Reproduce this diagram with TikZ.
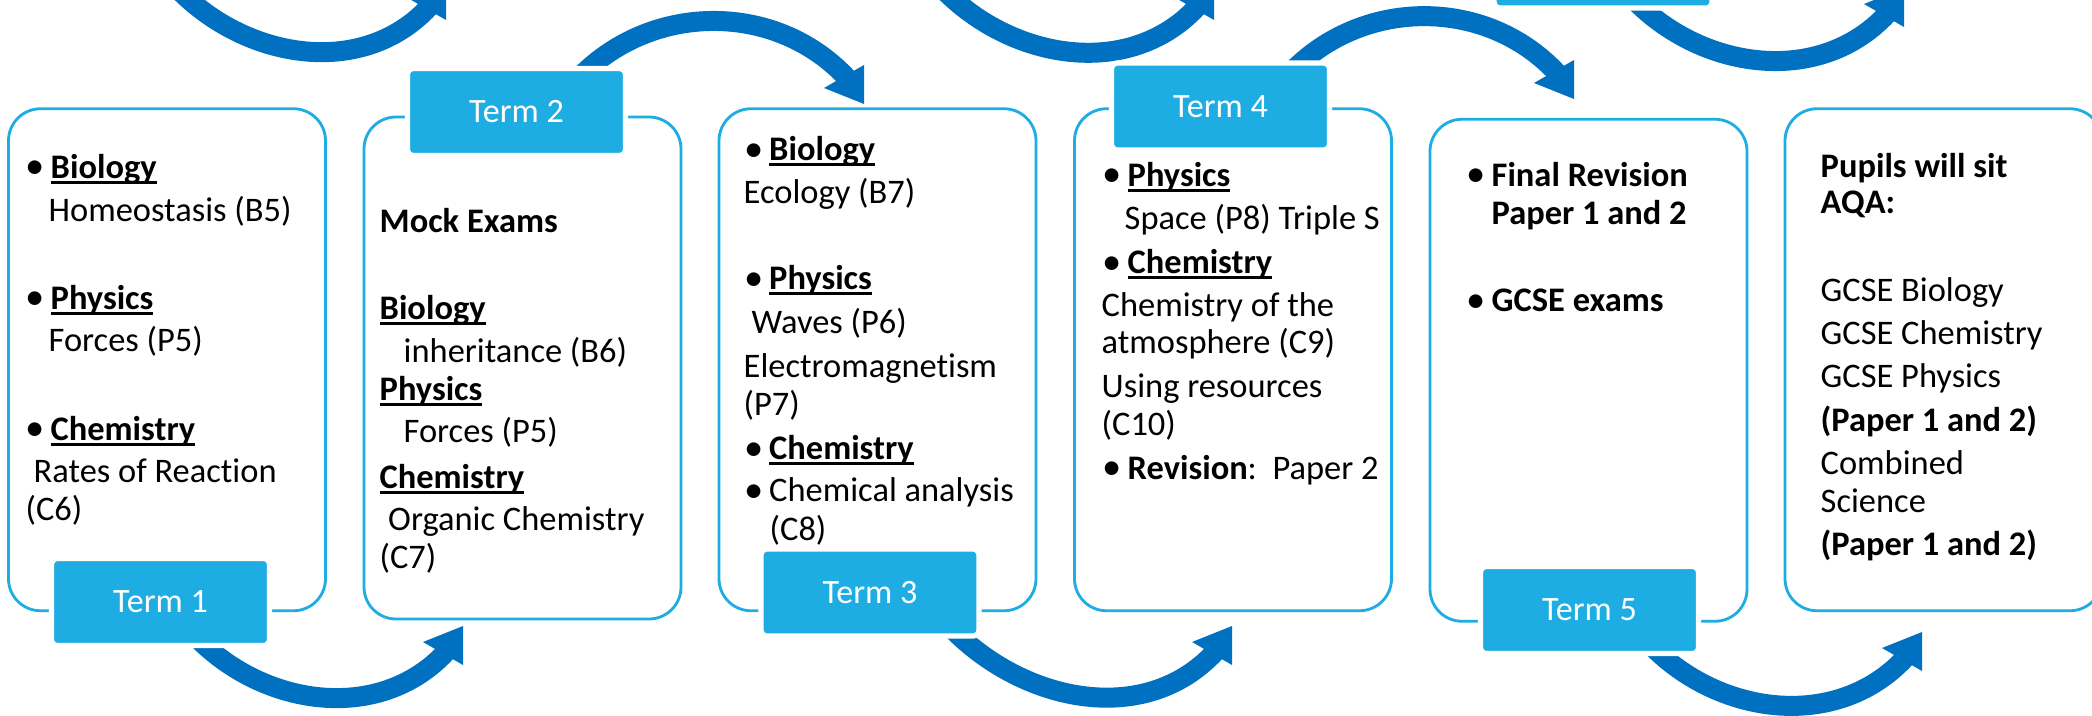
\documentclass[tikz,border=0pt]{standalone}
\usepackage{fontspec}
\setmainfont{Carlito}[Ligatures={NoCommon}]
\usetikzlibrary{backgrounds}
\definecolor{arrowblue}{RGB}{0,112,192}
\definecolor{termblue}{RGB}{30,173,226}
\newcommand\bul{\makebox[0.23cm][l]{\hspace{-0.02cm}\raisebox{-0.05ex}{\scalebox{1.12}{\textbullet}}}}
\newcommand\ulbox[1]{\setbox0=\hbox{#1}\rlap{\rule[-1.6pt]{\wd0}{0.75pt}}\box0}
\newcommand\subj[1]{\textbf{\ulbox{#1}}}
\newcommand\headup[1]{\fill[arrowblue] (#1) ++(0.17,-0.13) -- ++(0,0.39) -- ++(-0.40,-0.16) -- cycle;}
\newcommand\headdown[1]{\fill[arrowblue] (#1) ++(0.17,-0.26) -- ++(0,0.39) -- ++(-0.40,-0.23) -- cycle;}

\begin{document}
\begin{tikzpicture}[
    box/.style={draw=termblue, line width=0.8pt, rounded corners=0.32cm, minimum width=3.17cm, minimum height=5.02cm},
    tab/.style={fill=termblue, draw=white, line width=1.5pt, rounded corners=0.06cm, minimum width=2.18cm, minimum height=0.87cm, text=white, font=\fontsize{9.7}{11}\selectfont},
    txt/.style={anchor=base west, inner sep=0pt, font=\fontsize{9.8}{11}\selectfont},
    band/.style={draw=arrowblue, line width=0.2cm}
]
    \useasboundingbox (0,0) rectangle (20.92,7.15);

    % Boxes
    \node[box] (box1) at (1.67,3.5525) {};
    \node[box] (box2) at (5.225,3.47) {};
    \node[box] (box3) at (8.775,3.5525) {};
    \node[box] (box4) at (12.33,3.5525) {};
    \node[box] (box5) at (15.885,3.4475) {};
    \node[box] (box6) at (19.435,3.5525) {};

    % Term tabs
    \node[tab] (t1) at (1.605,1.13) {Term 1};
    \node[tab] (t2) at (5.165,6.03) {Term 2};
    \node[tab] (t3) at (8.70,1.225) {Term 3};
    \node[tab] (t4) at (12.205,6.085) {Term 4};
    \node[tab] (t5) at (15.895,1.05) {Term 5};
    \node[tab] (t6) at (16.03,7.505) {};

    % Term 1
    \foreach \x/\y/\t [count=\i] in {0.27/5.37/{\bul\subj{Biology}}, 0.48/4.94/{Homeostasis (B5)},
        0.27/4.06/{\bul\subj{Physics}}, 0.48/3.64/{Forces (P5)},
        0.27/2.75/{\bul\subj{Chemistry}}, 0.33/2.33/{Rates of Reaction}, 0.25/1.95/{(C6)}}
        \node[txt] (a\i) at (\x,\y) {\t};

    % Term 2
    \foreach \x/\y/\t [count=\i] in {3.79/4.825/{\textbf{Mock Exams}},
        3.79/3.96/{\subj{Biology}}, 4.03/3.525/{inheritance (B6)},
        3.79/3.15/{\subj{Physics}}, 4.03/2.73/{Forces (P5)},
        3.79/2.27/{\subj{Chemistry}}, 3.875/1.85/{Organic Chemistry}, 3.79/1.47/{(C7)}}
        \node[txt] (b\i) at (\x,\y) {\t};

    % Term 3
    \foreach \x/\y/\t [count=\i] in {7.455/5.545/{\bul\subj{Biology}}, 7.43/5.12/{Ecology (B7)},
        7.455/4.255/{\bul\subj{Physics}}, 7.51/3.82/{Waves (P6)},
        7.43/3.375/{Electromagnetism}, 7.43/3.00/{(P7)},
        7.455/2.555/{\bul\subj{Chemistry}}, 7.455/2.135/{\bul Chemical analysis}, 7.69/1.75/{(C8)}}
        \node[txt] (c\i) at (\x,\y) {\t};

    % Term 4
    \foreach \x/\y/\t [count=\i] in {11.04/5.29/{\bul\subj{Physics}}, 11.24/4.86/{Space (P8) Triple S},
        11.04/4.415/{\bul\subj{Chemistry}}, 11.01/3.99/{Chemistry of the},
        11.01/3.615/{atmosphere (C9)}, 11.01/3.18/{Using resources}, 11.01/2.80/{(C10)},
        11.04/2.36/{\bul\textbf{Revision}:~~Paper 2}}
        \node[txt] (d\i) at (\x,\y) {\t};

    % Term 5
    \foreach \x/\y/\t [count=\i] in {14.68/5.29/{\bul\textbf{Final Revision}}, 14.91/4.91/{\textbf{Paper 1 and 2}},
        14.68/4.035/{\bul\textbf{GCSE exams}}}
        \node[txt] (e\i) at (\x,\y) {\t};

    % Exams
    \foreach \x/\y/\t [count=\i] in {18.20/5.38/{\textbf{Pupils will sit}}, 18.20/5.015/{\textbf{AQA:}},
        18.20/4.14/{GCSE Biology}, 18.20/3.705/{GCSE Chemistry}, 18.20/3.275/{GCSE Physics},
        18.20/2.84/{\textbf{(Paper 1 and 2)}}, 18.20/2.41/{Combined}, 18.20/2.03/{Science},
        18.20/1.60/{\textbf{(Paper 1 and 2)}}}
        \node[txt] (f\i) at (\x,\y) {\t};

    % Curved arrows, behind the tabs
    \begin{scope}[on background layer]
        \fill[white] (0,0) rectangle (20.92,7.15);
        \coordinate (topA) at (1.75,7.29);
        \coordinate (topB) at (9.40,7.29);
        \coordinate (endA) at (4.29,7.08);
        \coordinate (endB) at (11.97,7.08);
        \coordinate (endC) at (18.87,7.01);
        \coordinate (end12) at (4.46,0.63);
        \coordinate (end23) at (8.47,6.37);
        \coordinate (end34) at (12.15,0.63);
        \coordinate (end45) at (15.57,6.42);
        \coordinate (end56) at (19.05,0.57);

        % along the top edge
        \draw[band] (topA) to[out=-47,in=-133] (endA);
        \headup{endA}
        \draw[band] (topB) to[out=-47,in=-133] (endB);
        \headup{endB}
        \draw[band] ([shift={(0.28,0.14)}]t6.south) to[out=-47,in=-133] (endC);
        \headup{endC}

        % from tab to tab
        \draw[band] ([shift={(0.33,0.14)}]t1.south) to[out=-47,in=-133] (end12);
        \headup{end12}
        \draw[band] ([shift={(0.605,-0.14)}]t2.north) to[out=47,in=133] (end23);
        \headdown{end23}
        \draw[band] ([shift={(0.78,0.14)}]t3.south) to[out=-47,in=-133] (end34);
        \headup{end34}
        \draw[band] ([shift={(0.685,-0.14)}]t4.north) to[out=47,in=133] (end45);
        \headdown{end45}
        \draw[band] ([shift={(0.585,0.14)}]t5.south) to[out=-47,in=-133] (end56);
        \headup{end56}
    \end{scope}
\end{tikzpicture}
\end{document}
